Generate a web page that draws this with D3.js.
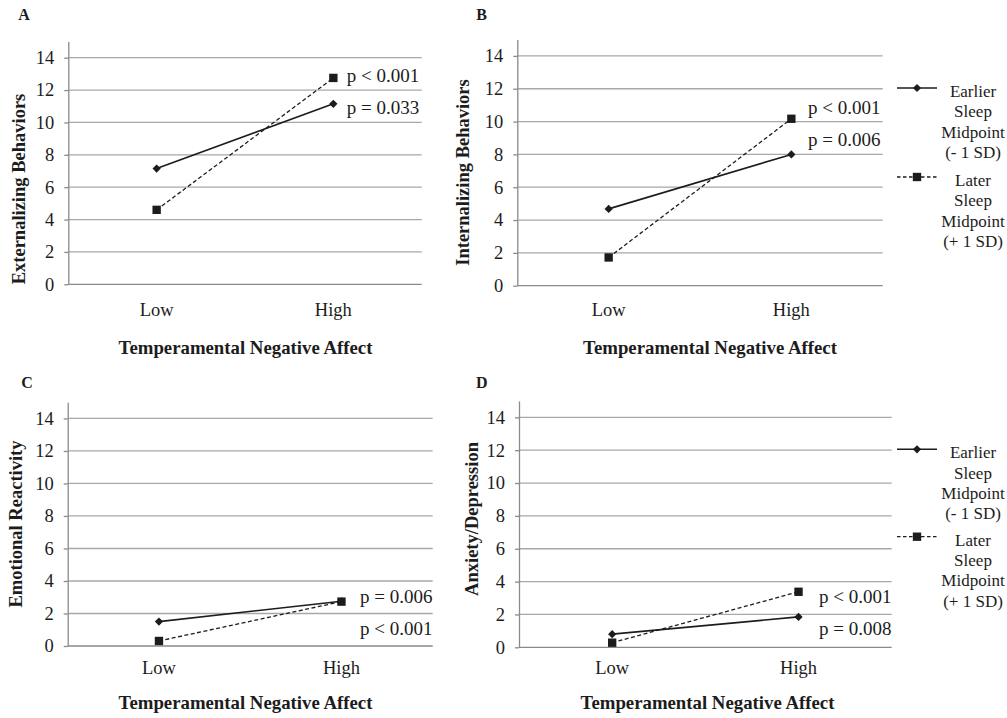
<!DOCTYPE html>
<html>
<head>
<meta charset="utf-8">
<script src="https://cdn.jsdelivr.net/npm/d3@7"></script>
<style>
  body { margin: 0; background: #fff; }
  svg { font-family: "Liberation Serif", "Times New Roman", serif; }
</style>
</head>
<body>
<div id="chart"></div>
<script>
const categories = ['Low', 'High'];
const yTicks = [0, 2, 4, 6, 8, 10, 12, 14];
const panelLetters = ['A', 'B', 'C', 'D'];
const yTitles = ['Externalizing Behaviors', 'Internalizing Behaviors', 'Emotional Reactivity', 'Anxiety/Depression'];
const xTitle = 'Temperamental Negative Affect';

// Earlier sleep midpoint (-1 SD), solid line with diamonds
const earlierValues = [[7.15, 11.15], [4.68, 8.0], [1.5, 2.75], [0.8, 1.85]];
// Later sleep midpoint (+1 SD), dashed line with squares
const laterValues = [[4.6, 12.75], [1.72, 10.17], [0.31, 2.73], [0.28, 3.38]];

// p labels at the High end, top one first
const pLabels = [
    ['p < 0.001', 'p = 0.033'],
    ['p < 0.001', 'p = 0.006'],
    ['p = 0.006', 'p < 0.001'],
    ['p < 0.001', 'p = 0.008']
];
const legendLabels = [
    ['Earlier', 'Sleep', 'Midpoint', '(- 1 SD)'],
    ['Later', 'Sleep', 'Midpoint', '(+ 1 SD)']
];

// layout of each panel (pixels)
const panels = [
    {x0: 68.3, x1: 421.7, y0: 284.3, y15: 41.5, letter: [24, 20], yTitle: [19, 189], xTitleX: 245.5, catY: 316, xTitleY: 354, pX: 346.7, pY: [82, 114], legend: false},
    {x0: 517.3, x1: 882.7, y0: 285.7, y15: 39.5, letter: [481.7, 20], yTitle: [463.3, 172.5], xTitleX: 710, catY: 316, xTitleY: 354, pX: 808, pY: [114, 146], legend: {y: [88, 177]}},
    {x0: 67.7, x1: 432.7, y0: 646, y15: 402.2, letter: [27, 388], yTitle: [15.7, 524], xTitleX: 245.5, catY: 674, xTitleY: 709, pX: 360, pY: [603, 635], legend: false},
    {x0: 519, x1: 891.7, y0: 647.3, y15: 400.9, letter: [481.7, 388], yTitle: [471.7, 519], xTitleX: 707.5, catY: 674, xTitleY: 709, pX: 819, pY: [603, 635], legend: {y: [449.3, 536.7]}}
];

const gridColor = '#a8a8a8';
const axisColor = '#8a8a8a';
const inkColor = '#1c1c1c';

const svg = d3.select('#chart').append('svg')
    .attr('width', 1007)
    .attr('height', 718);

const diamond = d3.symbol().type(d3.symbolSquare).size(34);
const square = d3.symbol().type(d3.symbolSquare).size(70);

function drawMarker(g, kind, x, y) {
    if (kind === 'diamond') {
        g.append('path')
            .attr('d', diamond())
            .attr('transform', `translate(${x},${y}) rotate(45)`)
            .attr('fill', inkColor);
    } else {
        g.append('path')
            .attr('d', square())
            .attr('transform', `translate(${x},${y})`)
            .attr('fill', inkColor);
    }
}

function drawPanel(p, i) {
    const g = svg.append('g');

    const xScale = d3.scaleBand()
        .domain(categories)
        .range([p.x0, p.x1])
        .padding(0);

    const yScale = d3.scaleLinear()
        .domain([0, 15])
        .range([p.y0, p.y15]);

    // gridlines
    g.selectAll('.grid')
        .data(yTicks.filter(t => t > 0))
        .enter().append('line')
        .attr('x1', p.x0)
        .attr('x2', p.x1)
        .attr('y1', d => yScale(d))
        .attr('y2', d => yScale(d))
        .attr('stroke', gridColor)
        .attr('stroke-width', 1.3);

    // y axis
    const yAxis = g.append('g')
        .attr('transform', `translate(${p.x0},0)`)
        .call(d3.axisLeft(yScale).tickValues(yTicks).tickSize(4).tickPadding(10).tickSizeOuter(0));
    yAxis.select('.domain').attr('stroke', axisColor).attr('stroke-width', 1.3);
    yAxis.selectAll('.tick line').attr('stroke', axisColor).attr('stroke-width', 1.3);
    yAxis.selectAll('.tick text')
        .attr('fill', inkColor)
        .style('font-size', '18.5px')
        .style('font-family', '"Liberation Serif", serif');

    // x baseline
    g.append('line')
        .attr('x1', p.x0).attr('x2', p.x1)
        .attr('y1', yScale(0)).attr('y2', yScale(0))
        .attr('stroke', axisColor)
        .attr('stroke-width', 1.3);

    // category labels
    g.selectAll('.cat')
        .data(categories)
        .enter().append('text')
        .attr('x', d => xScale(d) + xScale.bandwidth() / 2)
        .attr('y', p.catY)
        .attr('text-anchor', 'middle')
        .attr('fill', inkColor)
        .style('font-size', '18.5px')
        .text(d => d);

    // x title
    g.append('text')
        .attr('x', p.xTitleX)
        .attr('y', p.xTitleY)
        .attr('text-anchor', 'middle')
        .attr('fill', inkColor)
        .style('font-size', '18.8px')
        .style('font-weight', 'bold')
        .text(xTitle);

    // y title
    g.append('text')
        .attr('transform', `translate(${p.yTitle[0] + 6},${p.yTitle[1]}) rotate(-90)`)
        .attr('text-anchor', 'middle')
        .attr('fill', inkColor)
        .style('font-size', '18.5px')
        .style('font-weight', 'bold')
        .text(yTitles[i]);

    // panel letter
    g.append('text')
        .attr('x', p.letter[0])
        .attr('y', p.letter[1])
        .attr('text-anchor', 'middle')
        .attr('fill', inkColor)
        .style('font-size', '16px')
        .style('font-weight', 'bold')
        .text(panelLetters[i]);

    const line = d3.line()
        .x((d, j) => xScale(categories[j]) + xScale.bandwidth() / 2)
        .y(d => yScale(d));

    // earlier: solid
    g.append('path')
        .attr('d', line(earlierValues[i]))
        .attr('fill', 'none')
        .attr('stroke', inkColor)
        .attr('stroke-width', 1.6);
    // later: dashed
    g.append('path')
        .attr('d', line(laterValues[i]))
        .attr('fill', 'none')
        .attr('stroke', inkColor)
        .attr('stroke-width', 1.3)
        .attr('stroke-dasharray', '4,2.5');

    earlierValues[i].forEach((v, j) => {
        drawMarker(g, 'diamond', xScale(categories[j]) + xScale.bandwidth() / 2, yScale(v));
    });
    laterValues[i].forEach((v, j) => {
        drawMarker(g, 'square', xScale(categories[j]) + xScale.bandwidth() / 2, yScale(v));
    });

    // p labels
    g.selectAll('.plabel')
        .data(pLabels[i])
        .enter().append('text')
        .attr('x', p.pX)
        .attr('y', (d, j) => p.pY[j])
        .attr('fill', inkColor)
        .style('font-size', '19px')
        .text(d => d);

    if (p.legend) {
        const kinds = ['diamond', 'square'];
        legendLabels.forEach((lines, k) => {
            const ly = p.legend.y[k];
            g.append('line')
                .attr('x1', 897).attr('x2', 937)
                .attr('y1', ly).attr('y2', ly)
                .attr('stroke', inkColor)
                .attr('stroke-width', k === 0 ? 1.6 : 1.3)
                .attr('stroke-dasharray', k === 0 ? null : '3.5,2.5');
            drawMarker(g, kinds[k], 917, ly);
            g.selectAll('.leg' + k)
                .data(lines)
                .enter().append('text')
                .attr('x', 973)
                .attr('y', (d, j) => ly + 9 + j * 20.3)
                .attr('text-anchor', 'middle')
                .attr('fill', inkColor)
                .style('font-size', '17px')
                .text(d => d);
        });
    }
}

panels.forEach(drawPanel);
</script>
</body>
</html>
